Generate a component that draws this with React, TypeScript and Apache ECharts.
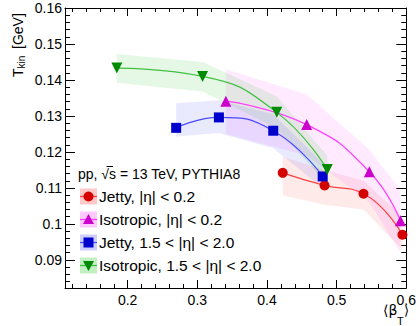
import React, { useEffect, useRef } from "react";
import * as echarts from "echarts";

// ---- axis ranges & ticks ----
const X_MIN = 0.11;
const X_MAX = 0.6;
const Y_MIN = 0.0822;
const Y_MAX = 0.16;
const xMajor = [0.2, 0.3, 0.4, 0.5, 0.6];
const xMinor = [0.12, 0.14, 0.16, 0.18, 0.22, 0.24, 0.26, 0.28, 0.32, 0.34, 0.36, 0.38, 0.42, 0.44, 0.46, 0.48, 0.52, 0.54, 0.56, 0.58];
const yMajor = [0.09, 0.1, 0.11, 0.12, 0.13, 0.14, 0.15, 0.16];
const yMinor = [0.084, 0.086, 0.088, 0.092, 0.094, 0.096, 0.098, 0.102, 0.104, 0.106, 0.108, 0.112, 0.114, 0.116, 0.118, 0.122, 0.124, 0.126, 0.128, 0.132, 0.134, 0.136, 0.138, 0.142, 0.144, 0.146, 0.148, 0.152, 0.154, 0.156, 0.158];

// ---- data ----
// Jetty, |eta| < 0.2
const jetMidX = [0.4226, 0.4827, 0.5386, 0.5945];
const jetMidY = [0.1142, 0.1107, 0.1084, 0.097];
const jetMidLo = [0.108, 0.1053, 0.104, 0.0928];
const jetMidHi = [0.1187, 0.115, 0.112, 0.102];
// Isotropic, |eta| < 0.2
const isoMidX = [0.341, 0.457, 0.547, 0.5916];
const isoMidY = [0.1341, 0.1276, 0.1145, 0.1009];
const isoMidLo = [0.125, 0.119, 0.106, 0.092];
const isoMidHi = [0.143, 0.136, 0.1206, 0.1094];
// Jetty, 1.5 < |eta| < 2.0
const jetFwdX = [0.2696, 0.331, 0.409, 0.48];
const jetFwdY = [0.1267, 0.1296, 0.1259, 0.1132];
const jetFwdLo = [0.1243, 0.1253, 0.121, 0.11];
const jetFwdHi = [0.1335, 0.1344, 0.1305, 0.117];
// Isotropic, 1.5 < |eta| < 2.0
const isoFwdX = [0.1844, 0.3075, 0.414, 0.4865];
const isoFwdY = [0.1433, 0.141, 0.131, 0.1151];
const isoFwdLo = [0.1392, 0.1368, 0.1265, 0.111];
const isoFwdHi = [0.1472, 0.145, 0.1355, 0.119];

const legendHeader = "pp, \u221As = 13 TeV, PYTHIA8";
const legendLabels = [
  "Jetty, |\u03B7| < 0.2",
  "Isotropic, |\u03B7| < 0.2",
  "Jetty, 1.5 < |\u03B7| < 2.0",
  "Isotropic, 1.5 < |\u03B7| < 2.0",
];

const FONT = "'Liberation Sans', Arial, Helvetica, sans-serif";

type SeriesDef = {
  xs: number[];
  ys: number[];
  lo: number[];
  hi: number[];
  line: string;
  marker: string;
  band: string;
  legendBand: string;
  symbol: string;
  size: number;
  rotate: number;
};

const defs: SeriesDef[] = [
  { xs: jetMidX, ys: jetMidY, lo: jetMidLo, hi: jetMidHi, line: "#ff4040", marker: "#d40000", band: "rgba(255,60,60,0.11)", legendBand: "rgba(255,60,60,0.28)", symbol: "circle", size: 10, rotate: 0 },
  { xs: isoMidX, ys: isoMidY, lo: isoMidLo, hi: isoMidHi, line: "#ff40ff", marker: "#cc00cc", band: "rgba(255,60,255,0.11)", legendBand: "rgba(255,60,255,0.28)", symbol: "triangle", size: 11, rotate: 0 },
  { xs: jetFwdX, ys: jetFwdY, lo: jetFwdLo, hi: jetFwdHi, line: "#4a4aff", marker: "#0000cc", band: "rgba(60,60,255,0.11)", legendBand: "rgba(60,60,255,0.25)", symbol: "rect", size: 10, rotate: 0 },
  { xs: isoFwdX, ys: isoFwdY, lo: isoFwdLo, hi: isoFwdHi, line: "#40c040", marker: "#008a00", band: "rgba(40,200,40,0.12)", legendBand: "rgba(40,200,40,0.28)", symbol: "triangle", size: 11, rotate: 180 },
];

function fmt(v: number) {
  return String(parseFloat(v.toFixed(3)));
}

function App() {
  const ref = useRef<HTMLDivElement>(null);
  useEffect(() => {
    if (!ref.current) return;
    const chart = echarts.init(ref.current, undefined, { renderer: "svg" });

    const axisLineStyle = { color: "#000", width: 1 };
    const xAxisBase = { type: "value", min: X_MIN, max: X_MAX, splitLine: { show: false } };
    const yAxisBase = { type: "value", min: Y_MIN, max: Y_MAX, splitLine: { show: false } };

    const xAxes = [
      {
        ...xAxisBase,
        position: "bottom",
        axisLine: { show: true, lineStyle: axisLineStyle },
        axisTick: { show: true, inside: true, length: 8, customValues: xMajor, lineStyle: axisLineStyle },
        axisLabel: { show: true, customValues: xMajor, formatter: fmt, fontSize: 14, fontFamily: FONT, color: "#000", margin: 5 },
      },
      {
        ...xAxisBase,
        position: "bottom",
        axisLine: { show: false },
        axisTick: { show: true, inside: true, length: 4, customValues: xMinor, lineStyle: axisLineStyle },
        axisLabel: { show: false },
      },
      {
        ...xAxisBase,
        position: "top",
        axisLine: { show: true, lineStyle: axisLineStyle },
        axisTick: { show: true, inside: true, length: 8, customValues: xMajor, lineStyle: axisLineStyle },
        axisLabel: { show: false },
      },
      {
        ...xAxisBase,
        position: "top",
        axisLine: { show: false },
        axisTick: { show: true, inside: true, length: 4, customValues: xMinor, lineStyle: axisLineStyle },
        axisLabel: { show: false },
      },
    ];
    const yAxes = [
      {
        ...yAxisBase,
        position: "left",
        axisLine: { show: true, lineStyle: axisLineStyle },
        axisTick: { show: true, inside: true, length: 10, customValues: yMajor, lineStyle: axisLineStyle },
        axisLabel: { show: true, customValues: yMajor, formatter: fmt, fontSize: 14, fontFamily: FONT, color: "#000", margin: 3 },
      },
      {
        ...yAxisBase,
        position: "left",
        axisLine: { show: false },
        axisTick: { show: true, inside: true, length: 5, customValues: yMinor, lineStyle: axisLineStyle },
        axisLabel: { show: false },
      },
      {
        ...yAxisBase,
        position: "right",
        axisLine: { show: true, lineStyle: axisLineStyle },
        axisTick: { show: true, inside: true, length: 10, customValues: yMajor, lineStyle: axisLineStyle },
        axisLabel: { show: false },
      },
      {
        ...yAxisBase,
        position: "right",
        axisLine: { show: false },
        axisTick: { show: true, inside: true, length: 5, customValues: yMinor, lineStyle: axisLineStyle },
        axisLabel: { show: false },
      },
    ];

    const series: any[] = [];
    defs.forEach((d, k) => {
      series.push({
        type: "custom",
        name: "band" + k,
        xAxisIndex: 0,
        yAxisIndex: 0,
        clip: true,
        z: 1,
        data: d.xs.map((x, i) => [x, d.lo[i], d.hi[i]]),
        encode: { x: 0, y: [1, 2] },
        renderItem: (params: any, api: any) => {
          if (params.dataIndex !== 0) return null;
          const up = d.xs.map((x, i) => api.coord([x, d.hi[i]]));
          const dn = d.xs.map((x, i) => api.coord([x, d.lo[i]])).reverse();
          return {
            type: "polygon",
            shape: { points: up.concat(dn) },
            style: { fill: d.band, stroke: "none" },
          };
        },
      });
    });
    defs.forEach((d, k) => {
      series.push({
        type: "line",
        name: legendLabels[k],
        xAxisIndex: 0,
        yAxisIndex: 0,
        z: 3,
        smooth: 0.5,
        data: d.xs.map((x, i) => [x, d.ys[i]]),
        lineStyle: { color: d.line, width: 1.2 },
        symbol: d.symbol,
        symbolSize: d.size,
        symbolRotate: d.rotate,
        itemStyle: { color: d.marker, borderWidth: 0 },
        showSymbol: true,
      });
    });

    // legend (drawn as graphic)
    const graphics: any[] = [];
    graphics.push({
      type: "text",
      x: 78,
      y: 174,
      style: { text: legendHeader, fontSize: 14, fontFamily: FONT, fill: "#000", align: "left", verticalAlign: "middle" },
    });
    // overline of sqrt(s)
    graphics.push({ type: "line", shape: { x1: 106.5, y1: 166.5, x2: 113, y2: 166.5 }, style: { stroke: "#000", lineWidth: 1 } });
    const rowY = [196.5, 219.5, 242.5, 265.5];
    defs.forEach((d, k) => {
      const cy = rowY[k];
      const cx = 88.5;
      graphics.push({ type: "rect", shape: { x: 80, y: cy - 8, width: 17, height: 16 }, style: { fill: d.legendBand } });
      graphics.push({ type: "line", shape: { x1: 80, y1: cy, x2: 97, y2: cy }, style: { stroke: d.line, lineWidth: 1.3 } });
      if (d.symbol === "circle") {
        graphics.push({ type: "circle", shape: { cx, cy, r: 5 }, style: { fill: d.marker } });
      } else if (d.symbol === "rect") {
        graphics.push({ type: "rect", shape: { x: cx - 5, y: cy - 5, width: 10, height: 10 }, style: { fill: d.marker } });
      } else if (d.rotate === 0) {
        graphics.push({ type: "polygon", shape: { points: [[cx, cy - 5.5], [cx + 5.5, cy + 4.5], [cx - 5.5, cy + 4.5]] }, style: { fill: d.marker } });
      } else {
        graphics.push({ type: "polygon", shape: { points: [[cx, cy + 5.5], [cx + 5.5, cy - 4.5], [cx - 5.5, cy - 4.5]] }, style: { fill: d.marker } });
      }
      graphics.push({
        type: "text",
        x: 99,
        y: cy,
        style: { text: legendLabels[k], fontSize: 15.5, fontFamily: FONT, fill: "#000", align: "left", verticalAlign: "middle" },
      });
    });

    // y-axis title: T_kin [GeV]
    graphics.push({ type: "text", x: 17.5, y: 77, rotation: Math.PI / 2, style: { text: "T", fontSize: 14, fontFamily: FONT, fill: "#000", align: "left", verticalAlign: "middle" } });
    graphics.push({ type: "text", x: 21.5, y: 68.5, rotation: Math.PI / 2, style: { text: "kin", fontSize: 10, fontFamily: FONT, fill: "#000", align: "left", verticalAlign: "middle" } });
    graphics.push({ type: "text", x: 17.5, y: 49, rotation: Math.PI / 2, style: { text: "[GeV]", fontSize: 14, fontFamily: FONT, fill: "#000", align: "left", verticalAlign: "middle" } });

    // x-axis title: <beta_T>
    graphics.push({ type: "text", x: 383, y: 310, style: { text: "\u27E8\u03B2", fontSize: 14, fontFamily: "'DejaVu Sans', " + FONT, fill: "#000", align: "left", verticalAlign: "middle" } });
    graphics.push({ type: "text", x: 397, y: 320.5, style: { text: "T", fontSize: 11, fontFamily: FONT, fill: "#000", align: "left", verticalAlign: "middle" } });
    graphics.push({ type: "text", x: 404, y: 310, style: { text: "\u27E9", fontSize: 13, fontFamily: "'DejaVu Sans', " + FONT, fill: "#000", align: "left", verticalAlign: "middle" } });

    chart.setOption({
      animation: false,
      backgroundColor: "#fff",
      grid: { left: 65, right: 9, top: 8, bottom: 38, containLabel: false },
      xAxis: xAxes,
      yAxis: yAxes,
      series,
      graphic: graphics,
    });
    return () => chart.dispose();
  }, []);
  return <div ref={ref} style={{ position: "fixed", left: 0, top: 0, width: 419, height: 326 }} />;
}

export default App;
